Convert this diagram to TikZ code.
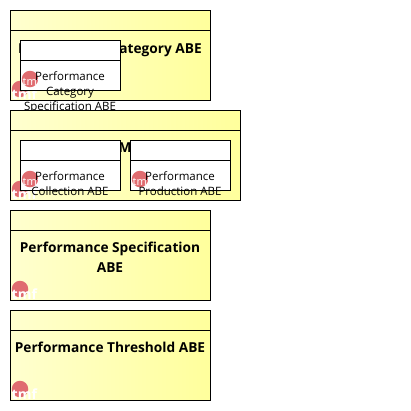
\documentclass[tikz,border=0pt]{standalone}
\usepackage{fontspec}
\setmainfont{Open Sans}
\definecolor{iconred}{HTML}{E06C70}
\definecolor{paleyellow}{HTML}{FFFFCF}
\definecolor{deepyellow}{HTML}{FFFF9C}
\tikzset{
  x=1pt,y=-1pt,
  container/.style={draw=black,line width=1pt,rectangle,inner sep=0pt,anchor=north west,
    left color=paleyellow,right color=deepyellow},
  part/.style={draw=black,line width=1pt,rectangle,inner sep=0pt,anchor=north west,fill=white},
  divider/.style={draw=black,line width=1pt},
  boldlabel/.style={font=\fontsize{13.7}{19.5}\selectfont\bfseries,align=center,text=black,inner sep=0pt},
  partlabel/.style={font=\fontsize{11.5}{15}\selectfont,align=center,text=black,inner sep=0pt},
  icondisc/.style={circle,fill=iconred,minimum size=16.5pt,inner sep=0pt},
  icontext/.style={font=\fontsize{14}{14}\selectfont\bfseries,text=white,inner sep=0pt,anchor=base west},
  innericontext/.style={font=\fontsize{11}{11}\selectfont,text=white,inner sep=0pt,anchor=base west}
}
\newcommand{\tmficon}[3]{%
  \node[icondisc] (#1d) at (#2,#3) {};
  \node[icontext] (#1t) at (#2-8.5,#3+10.5) {tmf};
}
\newcommand{\tmfinner}[3]{%
  \node[icondisc] (#1d) at (#2,#3) {};
  \node[innericontext] (#1t) at (#2-7.5,#3+6) {tmf};
}
\begin{document}
\begin{tikzpicture}
\useasboundingbox (0,0) rectangle (411,410);
% Category
\node[container,minimum width=200pt,minimum height=90pt] (cat) at (10,10) {};
\coordinate (catl) at (10,30); \coordinate (catr) at (210,30);
\draw[divider] (catl) -- (catr);
\node[boldlabel] (catlabel) at (110,50) {Performance Category ABE};
\tmficon{cati}{20}{89}
\node[part,minimum width=100pt,minimum height=50pt] (spec) at (20,40) {};
\coordinate (specl) at (20,60); \coordinate (specr) at (120,60);
\draw[divider] (specl) -- (specr);
\tmfinner{speci}{30}{79}
\node[partlabel] (speclabel) at (70,92) {Performance\\Category\\Specification ABE};
% Middle
\node[container,minimum width=230pt,minimum height=90pt] (mid) at (10,110) {};
\coordinate (midl) at (10,130); \coordinate (midr) at (240,130);
\draw[divider] (midl) -- (midr);
\node[boldlabel] (midlabel) at (125,148) {M};
\tmficon{midi}{20}{189}
\node[part,minimum width=100pt,minimum height=50pt] (coll) at (20,140) {};
\coordinate (colll) at (20,160); \coordinate (collr) at (120,160);
\draw[divider] (colll) -- (collr);
\tmfinner{colli}{30}{179}
\node[partlabel] (colllabel) at (70,183.5) {Performance\\Collection ABE};
\node[part,minimum width=100pt,minimum height=50pt] (prod) at (130,140) {};
\coordinate (prodl) at (130,160); \coordinate (prodr) at (230,160);
\draw[divider] (prodl) -- (prodr);
\tmfinner{prodi}{140}{179}
\node[partlabel] (prodlabel) at (180,183.5) {Performance\\Production ABE};
% Specification
\node[container,minimum width=200pt,minimum height=90pt] (pspec) at (10,210) {};
\coordinate (pspecl) at (10,230); \coordinate (pspecr) at (210,230);
\draw[divider] (pspecl) -- (pspecr);
\tmficon{pspeci}{20}{289}
\node[boldlabel] (pspeclabel) at (110,257) {Performance Specification\\ABE};
% Threshold
\node[container,minimum width=200pt,minimum height=90pt] (thr) at (10,310) {};
\coordinate (thrl) at (10,330); \coordinate (thrr) at (210,330);
\draw[divider] (thrl) -- (thrr);
\tmficon{thri}{20}{389}
\node[boldlabel] (thrlabel) at (110,347) {Performance Threshold ABE};
\end{tikzpicture}
\end{document}
